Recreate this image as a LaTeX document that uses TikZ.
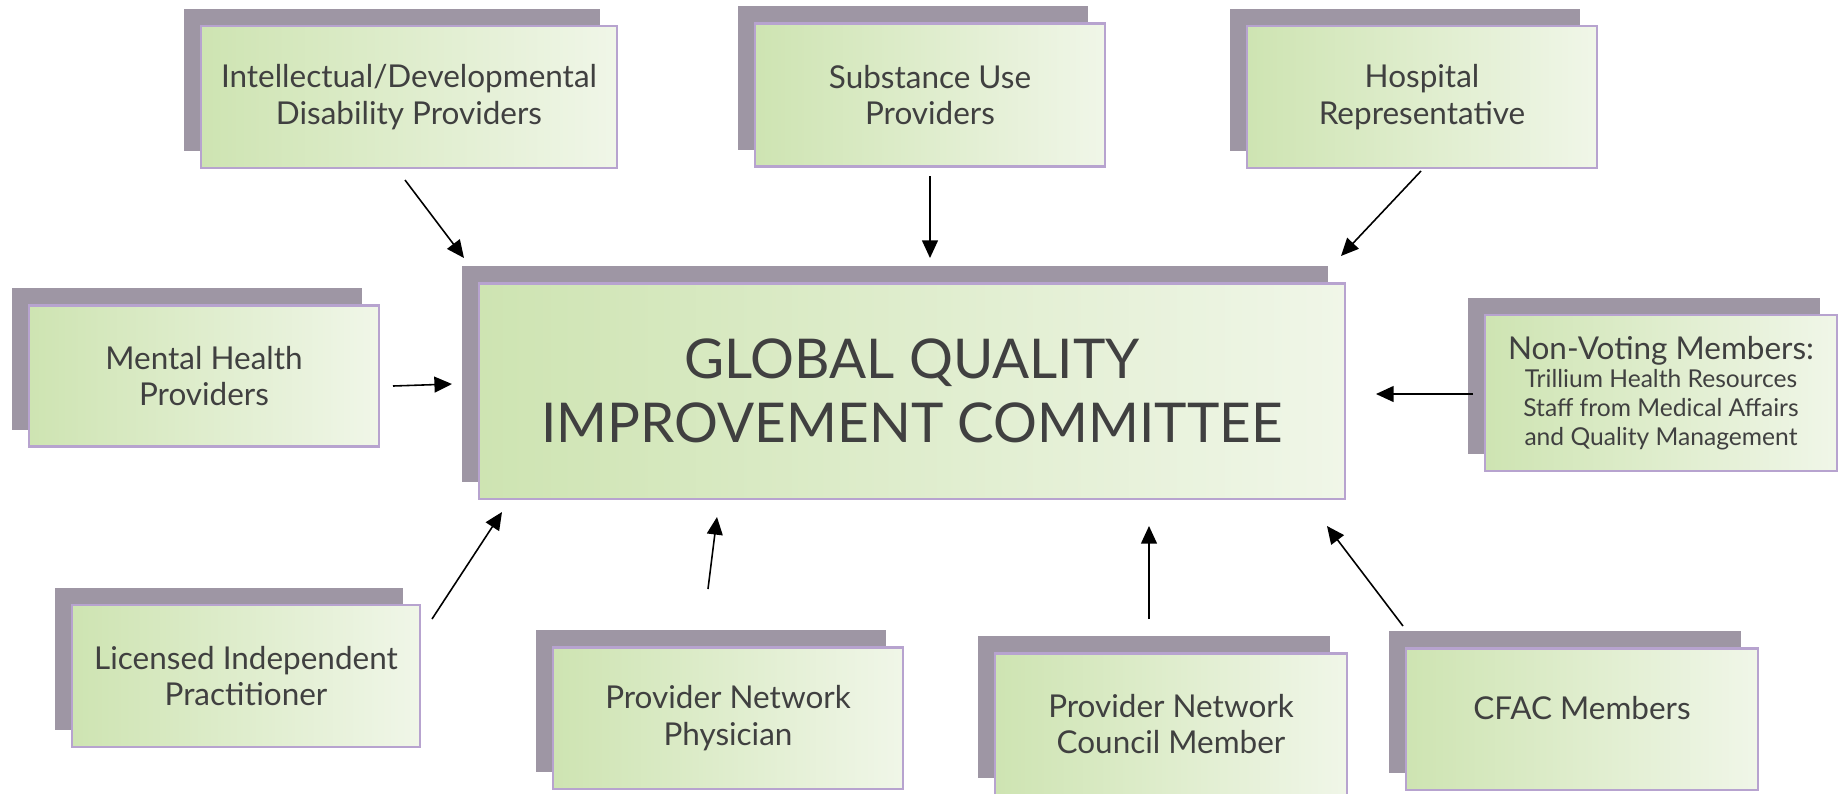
\documentclass[tikz,border=0pt]{standalone}
\usepackage{fontspec}
\setmainfont{Lato}
\usetikzlibrary{arrows.meta,shadows}
\definecolor{slabcol}{RGB}{158,150,164}
\definecolor{edgecol}{RGB}{183,163,207}
\definecolor{leafcol}{RGB}{206,228,178}
\definecolor{palecol}{RGB}{240,246,232}
\definecolor{inkcol}{RGB}{64,64,64}
\tikzset{
  % member box: green fade, lilac edge, grey slab behind it
  mbox/.style={rectangle, draw=edgecol, line width=0.6pt, left color=leafcol, right color=palecol,
               general shadow={fill=slabcol, shadow xshift=-0.17cm, shadow yshift=0.17cm},
               minimum width=3.5cm, minimum height=1.41cm, align=center, text=inkcol,
               font=\fontsize{8.95}{10.4}\selectfont, inner sep=2pt},
  % the committee box in the middle
  hubbox/.style={mbox, minimum width=8.66cm, minimum height=2.15cm,
               font=\fontsize{15.6}{18.3}\selectfont},
  % arrow into the committee
  feed/.style={-{Triangle[length=5pt,width=4.5pt]}, line width=0.45pt, black},
}

\begin{document}
\begin{tikzpicture}[x=0.01cm, y=-0.01cm]
  \useasboundingbox (0,0) rectangle (1841,793);

  % top row
  \node[mbox, minimum width=4.16cm, minimum height=1.42cm] (idd) at (409,97) {Intellectual/Developmental\\Disability Providers};
  \node[mbox, minimum height=1.43cm] (sub) at (930,95) {Substance Use\\Providers};
  \node[mbox, minimum height=1.42cm] (hosp) at (1422,97) {Hospital\\Representative};

  % middle row
  \node[mbox] (mh) at (204,376) {Mental Health\\Providers};
  \node[hubbox] (gqic) at (912,391) {GLOBAL QUALITY\\IMPROVEMENT COMMITTEE};
  \node[mbox, minimum width=3.52cm, minimum height=1.56cm, font=\fontsize{7}{8.2}\selectfont] (nvm) at (1661,393)
    {{\fontsize{8.95}{8.2}\selectfont Non-Voting Members:}\\Trillium Health Resources\\Staff from Medical Affairs\\and Quality Management};

  % bottom row
  \node[mbox, minimum width=3.47cm, minimum height=1.42cm] (lip) at (246,676) {Licensed Independent\\Practitioner};
  \node[mbox] (pnp) at (728,718) {Provider Network\\Physician};
  \node[mbox, minimum width=3.52cm] (pncm) at (1171,724) {Provider Network\\Council Member};
  \node[mbox, minimum width=3.51cm] (cfac) at (1582,719) {\raisebox{6.3pt}{CFAC Members}};

  % arrow ends
  \coordinate (iddT) at (405,180);  \coordinate (iddH) at (464,258);
  \coordinate (subT) at (930,176);  \coordinate (subH) at (930,258);
  \coordinate (hospT) at (1421,171); \coordinate (hospH) at (1341,256);
  \coordinate (mhT) at (393,386);   \coordinate (mhH) at (452,384);
  \coordinate (nvmT) at (1473,394); \coordinate (nvmH) at (1376,394);
  \coordinate (lipT) at (432,619);  \coordinate (lipH) at (502,512);
  \coordinate (pnpT) at (708,589);  \coordinate (pnpH) at (717,517);
  \coordinate (pncmT) at (1149,619); \coordinate (pncmH) at (1149,526);
  \coordinate (cfacT) at (1403,626); \coordinate (cfacH) at (1327,526);

  \foreach \m in {idd,sub,hosp,mh,nvm,lip,pnp,pncm,cfac}
    \draw[feed] (\m T) -- (\m H);
\end{tikzpicture}
\end{document}
